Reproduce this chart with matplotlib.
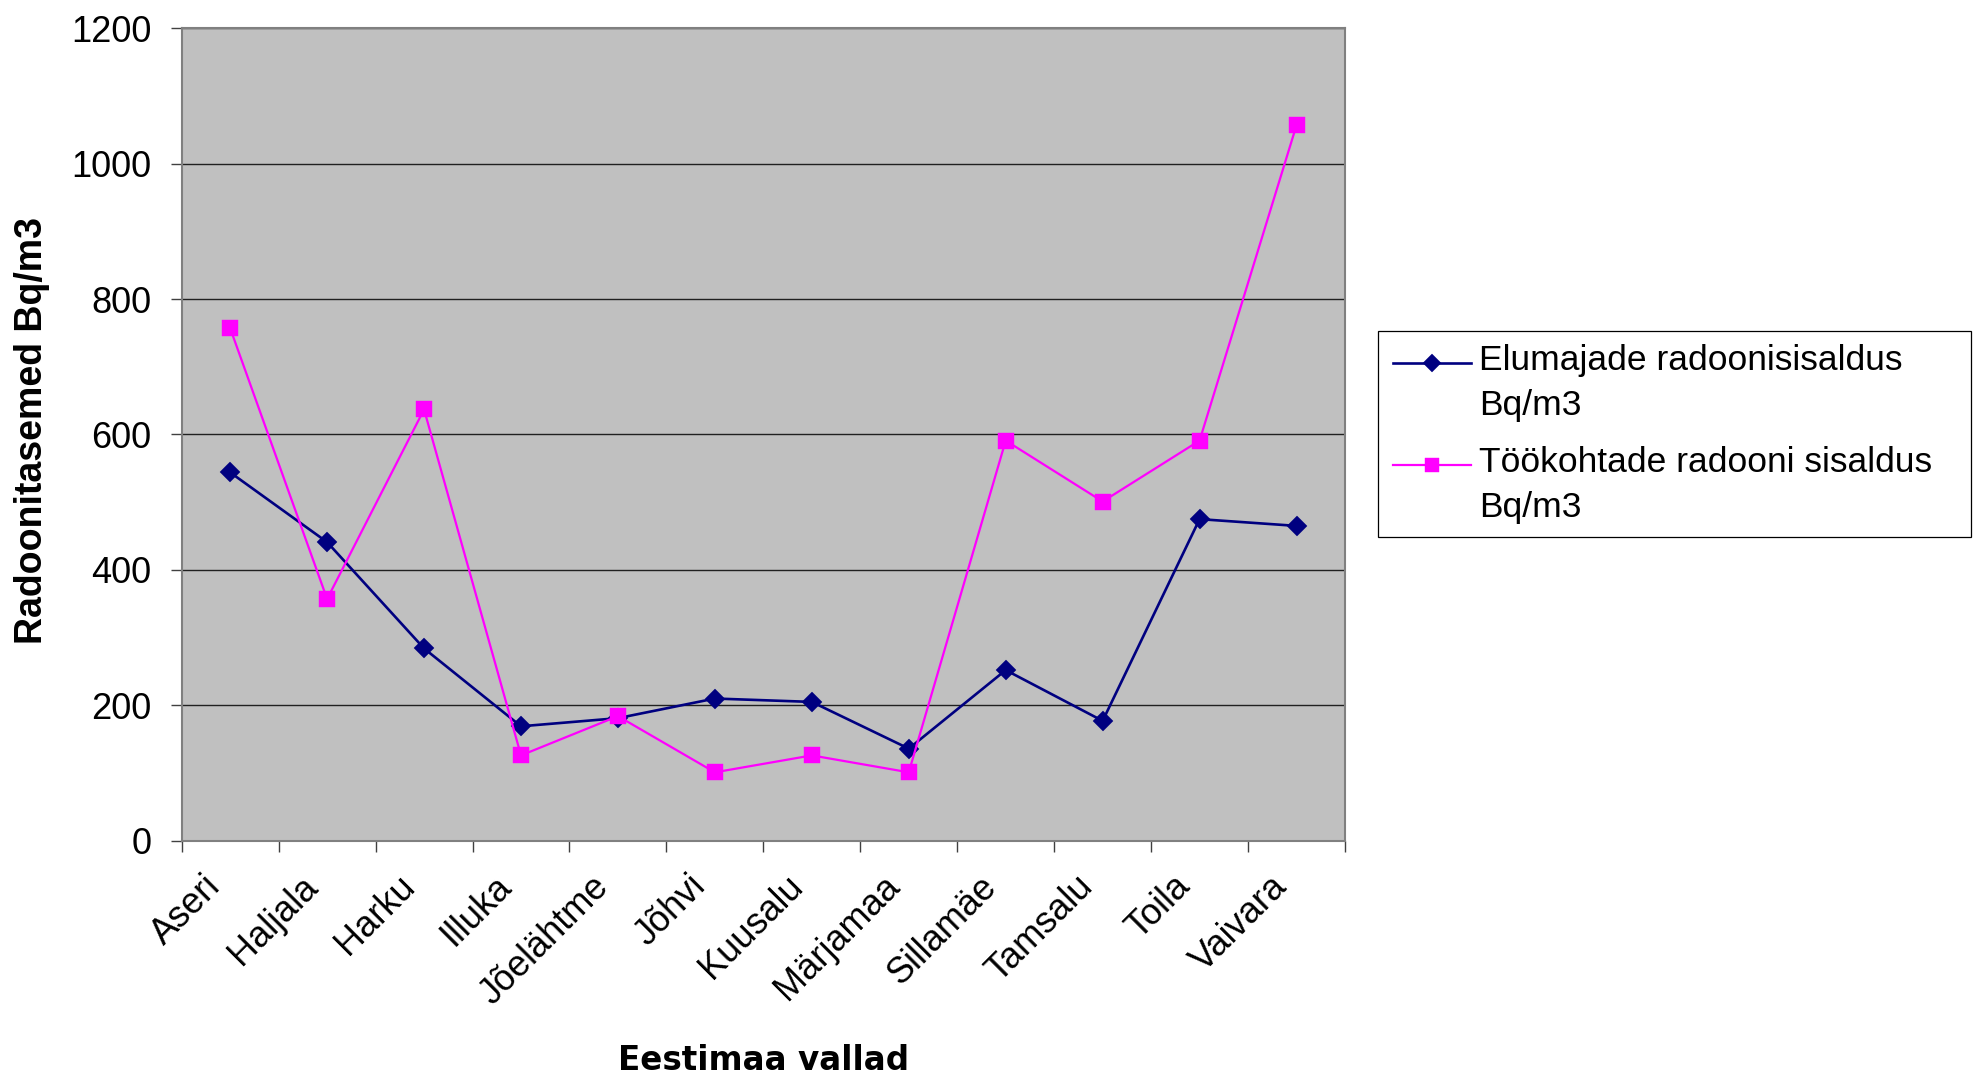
import matplotlib
matplotlib.use('Agg')
import matplotlib.pyplot as plt
from matplotlib.patches import Rectangle
from matplotlib.transforms import ScaledTranslation

# ---- data ----
categories = ['Aseri', 'Haljala', 'Harku', 'Illuka', 'Jõelähtme', 'Jõhvi',
              'Kuusalu', 'Märjamaa', 'Sillamäe', 'Tamsalu', 'Toila', 'Vaivara']
homes = [544, 441, 284, 169, 181, 210, 205, 136, 252, 177, 475, 465]
workplaces = [757, 357, 637, 126, 184, 101, 126, 101, 591, 501, 591, 1057]
series_labels = ['Elumajade radoonisisaldus\nBq/m3',
                 'Töökohtade radooni sisaldus\nBq/m3']
y_ticks = [0, 200, 400, 600, 800, 1000, 1200]
x_title = 'Eestimaa vallad'
y_title = 'Radoonitasemed Bq/m3'

plt.rcParams['font.family'] = ['Liberation Sans', 'DejaVu Sans']

W, H = 1973, 1077
fig = plt.figure(figsize=(W / 100, H / 100), dpi=100)


def fx(px):
    return px / W


def fy(py):
    return 1 - py / H


L, R, T, B = 181.7, 1345.0, 28.3, 840.7
ax = fig.add_axes([fx(L), fy(B), (R - L) / W, (B - T) / H])
ax.set_facecolor('#C0C0C0')

x = list(range(len(categories)))
ax.plot(x, homes, color='#000080', lw=1.9, marker='D', ms=10.4,
        mec='#000080', mew=0.3, label=series_labels[0], zorder=3)
ax.plot(x, workplaces, color='#FF00FF', lw=1.6, marker='s', ms=12,
        mec='#FF00FF', mew=0.3, label=series_labels[1], zorder=4)

ax.set_xlim(-0.5, len(categories) - 0.5)
ax.set_ylim(0, 1200)
ax.set_yticks(y_ticks)
ax.set_xticks(x)
ax.set_xticklabels(categories, rotation=45, ha='right', va='baseline',
                   rotation_mode='anchor')
ax.set_xticks([i - 0.5 for i in range(len(categories) + 1)], minor=True)
ax.yaxis.grid(True, color='#202020', lw=1.0)
ax.set_axisbelow(True)
for s in ax.spines.values():
    s.set_color('#808080')
    s.set_linewidth(1.5)

ax.tick_params(axis='y', length=7.7, width=1, color='#404040', pad=14,
               labelsize=26)
ax.tick_params(axis='x', which='major', length=0, pad=34, labelsize=26)
ax.tick_params(axis='x', which='minor', length=7.9, width=1, color='#404040')

off = ScaledTranslation(-8 / 100, 0, fig.dpi_scale_trans)
for lab in ax.get_xticklabels():
    lab.set_transform(lab.get_transform() + off)

ax.set_ylabel(y_title, fontsize=27, fontweight='bold', va='baseline')
ax.yaxis.set_label_coords((41.7 - L) / (R - L), (B - 430) / (B - T))
ax.set_xlabel(x_title, fontsize=23.5, fontweight='bold',
              family=['DejaVu Sans'], va='baseline')
ax.xaxis.set_label_coords(0.5, (B - 1070) / (B - T))

handles, labels = ax.get_legend_handles_labels()
leg = fig.legend(handles, labels, loc='upper left',
                 bbox_to_anchor=(fx(1393), fy(344)), frameon=False,
                 borderpad=0, borderaxespad=0, fontsize=25.5,
                 handlelength=2.2, handletextpad=0.23, labelspacing=0.68,
                 markerscale=0.85)
for t in leg.get_texts():
    t.set_linespacing(1.46)
up = ScaledTranslation(0, 21 / 100, fig.dpi_scale_trans)
for h in leg.legend_handles:
    h.set_transform(h.get_transform() + up)
fig.add_artist(Rectangle((fx(1377.6), fy(536.7)), (1970.6 - 1377.6) / W,
                         (536.7 - 330.7) / H, transform=fig.transFigure,
                         fill=False, ec='black', lw=0.9))

fig.savefig('out.png', dpi=100)
